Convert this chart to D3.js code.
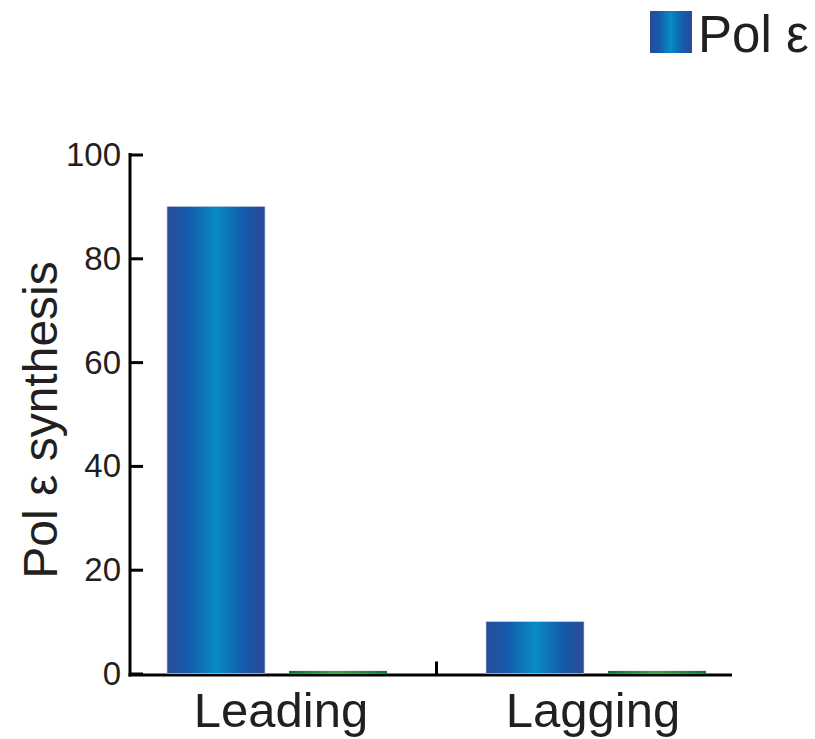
<!DOCTYPE html>
<html>
<head>
<meta charset="utf-8">
<script src="https://cdn.jsdelivr.net/npm/d3@7"></script>
<style>
  html, body { margin: 0; padding: 0; background: #fff; }
  text { font-family: "Liberation Sans", Arial, Helvetica, sans-serif; fill: #231f20; }
</style>
</head>
<body>
<svg id="chart" width="815" height="739"></svg>
<script>
const categories = ["Leading", "Lagging"];
const seriesNames = ["Pol ε", "Other"];
const polEpsilon = [90, 10];
const other = [0.5, 0.5];
const yTicks = [0, 20, 40, 60, 80, 100];
const yLabel = "Pol ε synthesis";
const legendLabel = "Pol ε";

const svg = d3.select("#chart");
const defs = svg.append("defs");

const blue = defs.append("linearGradient").attr("id", "gBlue")
  .attr("x1", "0%").attr("x2", "100%").attr("y1", "0%").attr("y2", "0%");
[["0%", "#2a4b99"], ["22%", "#135cab"], ["50%", "#0a8ac7"], ["78%", "#135cab"], ["100%", "#2a4a97"]]
  .forEach(([o, c]) => blue.append("stop").attr("offset", o).attr("stop-color", c));
const green = defs.append("linearGradient").attr("id", "gGreen")
  .attr("x1", "0%").attr("x2", "100%").attr("y1", "0%").attr("y2", "0%");
[["0%", "#00773a"], ["50%", "#3aa845"], ["100%", "#00773a"]]
  .forEach(([o, c]) => green.append("stop").attr("offset", o).attr("stop-color", c));

const fills = ["url(#gBlue)", "url(#gGreen)"];
const data = categories.map((c, i) => ({ cat: c, values: [polEpsilon[i], other[i]] }));

const y = d3.scaleLinear().domain([0, 100]).range([673.5, 154.5]);
const x0 = d3.scaleBand().domain(categories).range([167, 706]).paddingInner(99 / 319).paddingOuter(0);
const x1 = d3.scaleBand().domain(d3.range(seriesNames.length)).range([0, x0.bandwidth()]).paddingInner(24 / 122).paddingOuter(0);

// x axis line (drawn first so bars sit on top)
svg.append("line").attr("x1", 128.5).attr("x2", 732).attr("y1", y(0) + 1.5).attr("y2", y(0) + 1.5)
  .attr("stroke", "#000").attr("stroke-width", 3);

// bars
const groups = svg.append("g").selectAll("g").data(data).join("g")
  .attr("transform", d => `translate(${x0(d.cat)},0)`);
groups.selectAll("rect").data(d => d.values.map((v, i) => ({ v, i }))).join("rect")
  .attr("x", d => x1(d.i))
  .attr("width", x1.bandwidth())
  .attr("y", d => y(d.v))
  .attr("height", d => y(0) - y(d.v))
  .attr("fill", d => fills[d.i])
  .attr("stroke", d => d.i === 0 ? "#c9d3e6" : "none")
  .attr("stroke-width", 0.6);

// y axis
const yAxis = d3.axisRight(y).tickValues(yTicks).tickSize(13).tickFormat("");
const ya = svg.append("g").attr("transform", "translate(130,0)").call(yAxis);
ya.select(".domain").remove();
ya.selectAll(".tick line").attr("stroke", "#000").attr("stroke-width", 3);
svg.append("line").attr("x1", 130).attr("x2", 130).attr("y1", y(100) - 1.5).attr("y2", y(0) + 3)
  .attr("stroke", "#000").attr("stroke-width", 3);
svg.append("g").selectAll("text").data(yTicks).join("text")
  .attr("x", 121).attr("y", d => y(d) + 11.5)
  .attr("text-anchor", "end").attr("font-size", 33)
  .text(d => d);

// x axis mid tick
const midTick = (x0(categories[0]) + x0.bandwidth() + x0(categories[1])) / 2;
svg.append("line").attr("x1", midTick).attr("x2", midTick).attr("y1", y(0) + 1.5).attr("y2", y(0) - 12)
  .attr("stroke", "#000").attr("stroke-width", 3);
svg.append("g").selectAll("text").data(categories).join("text")
  .attr("x", d => x0(d) + x0.bandwidth() / 2 + (d === "Leading" ? 4 : -3))
  .attr("y", 727)
  .attr("text-anchor", "middle").attr("font-size", 49)
  .text(d => d);

// y label
svg.append("text")
  .attr("transform", "translate(57,420) rotate(-90)")
  .attr("text-anchor", "middle").attr("font-size", 48)
  .text(yLabel);

// legend
svg.append("rect").attr("x", 650).attr("y", 11).attr("width", 42).attr("height", 42)
  .attr("fill", "url(#gBlue)");
svg.append("text").attr("x", 698).attr("y", 52).attr("font-size", 51).text(legendLabel);
</script>
</body>
</html>
